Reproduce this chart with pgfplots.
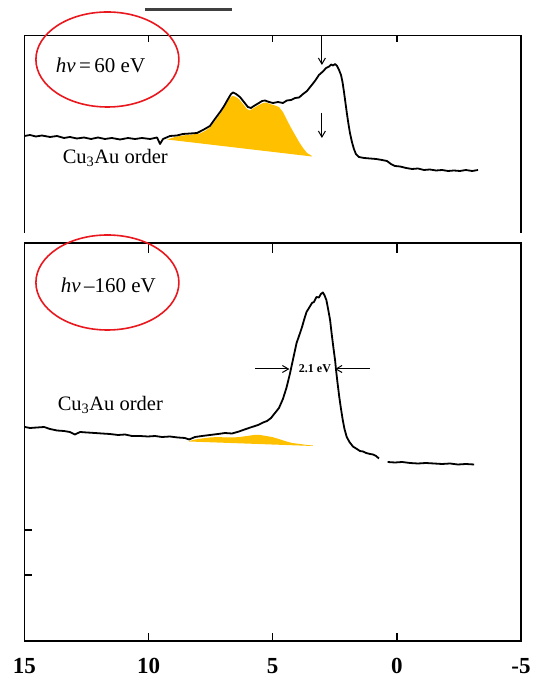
\documentclass[border=0pt]{standalone}
\usepackage{fontspec}
\setmainfont{Liberation Serif}
\usepackage{pgfplots}
\pgfplotsset{compat=1.18}
\usetikzlibrary{arrows.meta}
\definecolor{fillgold}{RGB}{255,192,0}
\definecolor{markred}{RGB}{232,24,30}

\begin{document}
\begin{tikzpicture}
\useasboundingbox (0pt,0pt) rectangle (539pt,685pt);
% remnant of a rule above the upper panel
\draw[line width=3pt, black!75] (145pt,675pt) -- (232pt,675pt);

% ---------------- upper panel: hv = 60 eV ----------------
\begin{axis}[
  at={(24.5pt,452pt)}, anchor=south west,
  scale only axis, width=496.5pt, height=197.5pt,
  xmin=-5, xmax=15, x dir=reverse,
  ymin=0, ymax=197.5,
  axis x line*=top, axis y line*=box,
  xtick={10,5,0}, xticklabels={}, ytick=\empty,
  tick align=inside,
  major tick length=7pt,
  xtick style={line width=1.3pt, black},
  axis line style={line width=1.5pt},
  clip=false,
]
% inward tick marks on the upper edge
\pgfplotsinvokeforeach{10,5,0}{
  \draw[line width=1.3pt] (axis cs:#1,197.5) -- ++(0pt,-7pt);
}
% shaded Au 5d contribution
\addplot[fill=fillgold, draw=none, forget plot] coordinates {
 (9.26,93.5) (8.94,96) (8.62,97.5) (8.25,98.5) (7.93,99.5) (7.73,102)
 (7.53,105.5) (7.33,112) (7.12,119) (6.92,127) (6.76,134) (6.64,137)
 (6.52,136.5) (6.36,134) (6.20,129) (6.04,124) (5.92,122.5) (5.76,125)
 (5.59,127.5) (5.39,130) (5.27,130.5) (5.11,129) (4.91,127.5) (4.75,126)
 (4.59,121) (4.43,113) (4.26,105) (4.10,98) (3.94,91) (3.78,85)
 (3.62,80) (3.42,77) (3.42,76.5)
} -- cycle;
% spectrum
\addplot[black, line width=1.8pt, line join=round] coordinates {
 (15.00,97) (14.78,98) (14.54,96.5) (14.30,97.5) (13.97,96) (13.69,97)
 (13.41,95) (13.17,96) (12.89,94.5) (12.60,95.5) (12.32,94) (12.04,95.5)
 (11.76,94) (11.48,95) (11.15,93.5) (10.83,95) (10.55,94) (10.27,95)
 (9.94,94) (9.66,95.5) (9.54,89) (9.42,94) (9.14,97) (8.86,97.5)
 (8.62,99) (8.33,99.5) (8.05,100) (7.81,103) (7.53,107) (7.33,114)
 (7.12,121) (6.96,127) (6.80,134) (6.68,139) (6.60,140.5) (6.48,139)
 (6.32,136) (6.16,131) (6.00,126) (5.88,125) (5.76,127) (5.59,129.5)
 (5.43,132) (5.31,132.5) (5.15,131) (4.99,130) (4.79,131) (4.59,130)
 (4.43,132.5) (4.26,133) (4.10,135) (3.94,135.5) (3.78,139) (3.62,142)
 (3.46,147) (3.30,152) (3.14,158) (2.98,161.5) (2.85,165) (2.73,166.5)
 (2.65,168.5) (2.57,167.5) (2.49,169) (2.41,167) (2.33,163) (2.25,158)
 (2.19,151) (2.13,141) (2.07,130) (2.01,119) (1.95,109) (1.89,100)
 (1.81,91) (1.73,84) (1.65,79) (1.53,76) (1.32,75) (1.08,74.5)
 (0.84,74) (0.60,73) (0.40,72) (0.24,69) (0.08,67) (-0.13,66.5)
 (-0.37,65) (-0.61,64) (-0.85,64.5) (-1.09,63) (-1.33,63.5) (-1.58,62.5)
 (-1.82,63) (-2.06,62) (-2.30,62.5) (-2.54,62) (-2.78,63) (-3.03,62)
 (-3.27,63)
};
\draw[line width=1pt, -{Straight Barb[length=6pt,width=7pt]}]
  (axis cs:3.02,197) -- (axis cs:3.02,168);
\draw[line width=1pt, -{Straight Barb[length=6pt,width=7pt]}]
  (axis cs:3.02,120) -- (axis cs:3.02,95);
\node[anchor=west, font=\fontsize{21}{22}\selectfont]
  at (axis cs:13.88,168) {\textit{hν}\,=\,60 eV};
\node[anchor=west, font=\fontsize{20.5}{22}\selectfont]
  at (axis cs:13.60,75) {Cu\textsubscript{3}Au order};
\draw[markred, line width=1.6pt] (axis cs:11.66,173.5)
  ellipse [x radius=71.5pt, y radius=47.5pt];
\end{axis}

% ---------------- lower panel: hv = 160 eV ----------------
\begin{axis}[
  at={(24.5pt,44pt)}, anchor=south west,
  scale only axis, width=496.5pt, height=398pt,
  xmin=-5, xmax=15, x dir=reverse,
  ymin=0, ymax=398,
  xtick={15,10,5,0,-5}, xtick pos=both,
  ytick={66,111}, yticklabels={}, ytick pos=left,
  tick align=inside,
  major tick length=8pt,
  xtick style={line width=1.3pt, black},
  ytick style={line width=1.3pt, black},
  axis line style={line width=1.5pt},
  xticklabel style={font=\fontsize{23}{24}\selectfont\bfseries, yshift=-14pt},
  /pgf/number format/assume math mode=true,
  clip=false,
]
% inward tick marks on the upper and lower edges
\pgfplotsinvokeforeach{10,5,0}{
  \draw[line width=1.3pt] (axis cs:#1,398) -- ++(0pt,-10pt);
  \draw[line width=1.3pt] (axis cs:#1,0) -- ++(0pt,7pt);
}
\addplot[fill=fillgold, draw=none, forget plot] coordinates {
 (8.37,200) (8.13,201.5) (7.85,202.5) (7.53,203.5) (7.21,204) (6.88,203.5)
 (6.60,203.5) (6.32,204) (6.04,205) (5.76,206) (5.51,206) (5.27,205)
 (5.03,204) (4.75,202) (4.51,200) (4.22,198) (3.90,197) (3.62,196)
 (3.38,195.5) (3.38,195) (5.92,197.3) (8.37,199.5)
} -- cycle;
\addplot[black, line width=1.8pt, line join=round] coordinates {
 (14.98,214) (14.78,213) (14.50,213.5) (14.21,214) (13.97,212) (13.69,210.5)
 (13.41,210) (13.17,209) (12.97,206.5) (12.76,209) (12.48,208.5) (12.16,208)
 (11.88,207.5) (11.56,207) (11.23,206) (10.95,206.5) (10.67,205) (10.35,205)
 (10.03,204.5) (9.74,205) (9.46,204) (9.14,204.5) (8.82,203.5) (8.54,203)
 (8.37,201.5) (8.13,204) (7.85,205) (7.53,206) (7.21,207) (6.92,208)
 (6.64,207.5) (6.36,209.5) (6.08,212) (5.84,214) (5.59,216) (5.39,218.5)
 (5.23,220) (5.07,223) (4.91,228) (4.75,233) (4.59,242) (4.45,253)
 (4.31,267) (4.18,282) (4.04,298) (3.90,308) (3.82,314) (3.74,321)
 (3.64,329) (3.54,333) (3.42,338) (3.34,339) (3.24,344) (3.14,343.5)
 (3.06,347) (2.98,348.5) (2.92,346) (2.84,341) (2.77,332) (2.69,321)
 (2.63,308) (2.56,294) (2.49,281) (2.45,271) (2.39,258) (2.32,244)
 (2.25,232) (2.18,221) (2.11,212) (2.02,204) (1.91,199) (1.77,194.5)
 (1.61,192) (1.49,190) (1.36,189.5) (1.24,188) (1.08,187) (0.96,186.5)
 (0.84,185) (0.72,182.5)
};
\addplot[black, line width=1.8pt, line join=round] coordinates {
 (0.37,179) (0.08,178.5) (-0.21,179) (-0.53,178) (-0.85,177.5) (-1.17,178)
 (-1.50,177.5) (-1.82,177) (-2.14,177.5) (-2.46,176.5) (-2.78,177) (-3.11,176.5)
};
% width of the main peak
\draw[line width=1pt, -{Straight Barb[length=6pt,width=7pt]}]
  (axis cs:5.71,272) -- (axis cs:4.33,272);
\draw[line width=1pt, -{Straight Barb[length=6pt,width=7pt]}]
  (axis cs:1.08,272) -- (axis cs:2.49,272);
\node[font=\fontsize{12}{12}\selectfont\bfseries, inner sep=0pt]
  at (axis cs:3.30,272) {2.1 eV};
\node[anchor=west, font=\fontsize{21}{22}\selectfont]
  at (axis cs:13.68,356) {\textit{hν}\,–160 eV};
\node[anchor=west, font=\fontsize{20.5}{22}\selectfont]
  at (axis cs:13.80,236) {Cu\textsubscript{3}Au order};
\draw[markred, line width=1.6pt] (axis cs:11.66,358.5)
  ellipse [x radius=71.5pt, y radius=47.5pt];
\end{axis}
\end{tikzpicture}
\end{document}
